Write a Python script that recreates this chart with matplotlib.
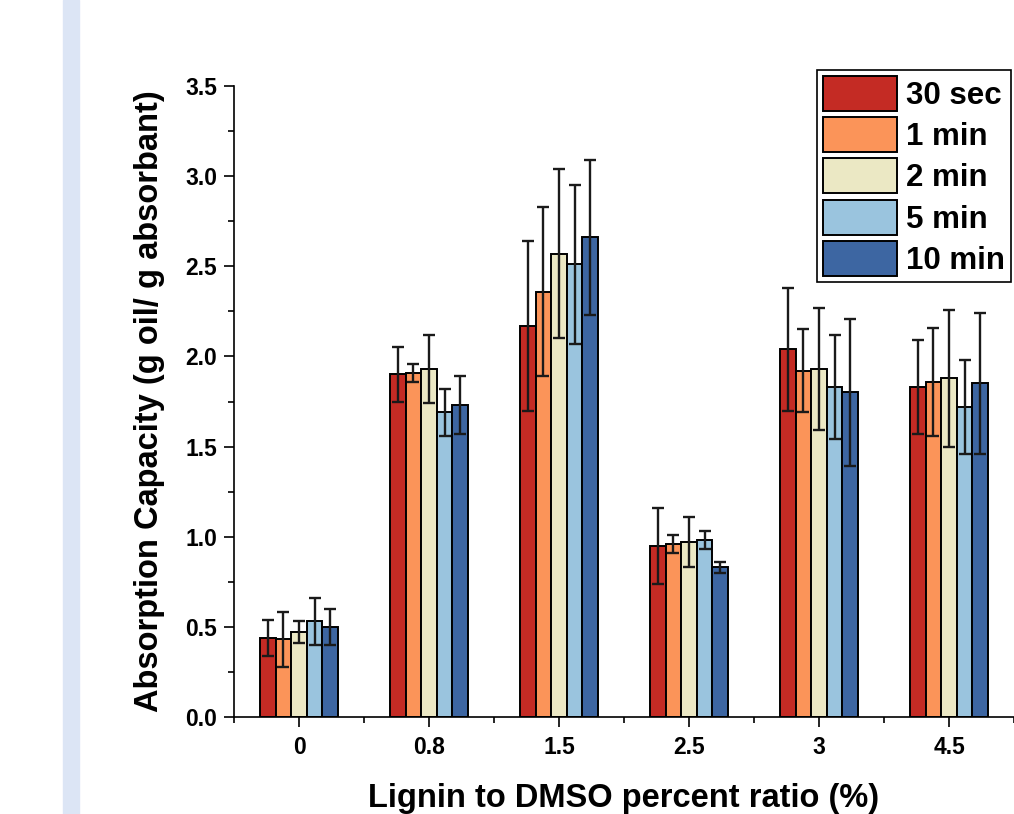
import matplotlib.pyplot as plt
import numpy as np

# categories and series
ratios = ['0', '0.8', '1.5', '2.5', '3', '4.5']
series = ['30 sec', '1 min', '2 min', '5 min', '10 min']
colors = ['#c42b24', '#fb9459', '#ebe8c4', '#9ac4de', '#3d66a2']

sec30 = [0.44, 1.90, 2.17, 0.95, 2.04, 1.83]
min1 = [0.43, 1.91, 2.36, 0.96, 1.92, 1.86]
min2 = [0.47, 1.93, 2.57, 0.97, 1.93, 1.88]
min5 = [0.53, 1.69, 2.51, 0.98, 1.83, 1.72]
min10 = [0.50, 1.73, 2.66, 0.83, 1.80, 1.85]

err30 = [0.10, 0.15, 0.47, 0.21, 0.34, 0.26]
err1 = [0.15, 0.05, 0.47, 0.05, 0.23, 0.30]
err2 = [0.06, 0.19, 0.47, 0.14, 0.34, 0.38]
err5 = [0.13, 0.13, 0.44, 0.05, 0.29, 0.26]
err10 = [0.10, 0.16, 0.43, 0.03, 0.41, 0.39]

values = [sec30, min1, min2, min5, min10]
errors = [err30, err1, err2, err5, err10]

bold_font = ['Liberation Sans', 'DejaVu Sans']

fig = plt.figure(figsize=(10.14, 8.14), dpi=100)
# light blue strip on the left edge
fig.patches.append(plt.Rectangle((63 / 1014, 0), 16 / 1014, 1, transform=fig.transFigure,
                                 color='#dce5f5', zorder=0))

ax = fig.add_axes([234 / 1014, 1 - 717 / 814, 1 - 234 / 1014, (717 - 86) / 814])

x = np.arange(len(ratios))
w = 0.12
for i in range(len(series)):
    pos = x + (i - 2) * w
    ax.bar(pos, values[i], w, color=colors[i], edgecolor='black', linewidth=1.4,
           label=series[i], zorder=2)
    ax.errorbar(pos, values[i], yerr=errors[i], fmt='none', ecolor='#1a1a1a',
                elinewidth=1.7, capsize=4.5, capthick=1.7, zorder=3)

ax.set_xlim(-0.5, 5.5)
ax.set_ylim(0, 3.5)
ax.set_xticks(x)
ax.set_xticklabels(ratios)
ax.set_xticks(np.arange(-0.5, 5.6, 1), minor=True)
ax.set_yticks(np.arange(0, 3.6, 0.5))
ax.set_yticklabels(['%.1f' % v for v in np.arange(0, 3.6, 0.5)])
ax.set_yticks(np.arange(0.25, 3.5, 0.5), minor=True)

for s in ['top', 'right']:
    ax.spines[s].set_visible(False)
for s in ['left', 'bottom']:
    ax.spines[s].set_linewidth(1.2)

ax.tick_params(which='major', direction='out', length=7, width=1.2)
ax.tick_params(which='minor', direction='out', length=4, width=1.2)
ax.tick_params(axis='x', which='major', pad=7)
ax.tick_params(axis='y', which='major', pad=5)
for lab in ax.get_xticklabels() + ax.get_yticklabels():
    lab.set_family(bold_font)
    lab.set_fontsize(16.5)
    lab.set_fontweight('bold')

ax.set_xlabel('Lignin to DMSO percent ratio (%)', fontsize=23.5, fontweight='bold',
              family=bold_font)
ax.set_ylabel('Absorption Capacity (g oil/ g absorbant)', fontsize=23.5, fontweight='bold',
              family=bold_font)
ax.xaxis.set_label_coords(0.5, -0.104)
ax.yaxis.set_label_coords(-0.088, 0.5)

leg = ax.legend(loc='upper right', bbox_to_anchor=(1011 / 1014, 1 - 70 / 814),
                bbox_transform=fig.transFigure, borderaxespad=0, fancybox=False,
                edgecolor='black', framealpha=1, handlelength=2.37, handleheight=1.35,
                labelspacing=0.2, handletextpad=0.3, borderpad=0.18,
                prop={'family': bold_font, 'weight': 'bold', 'size': 22.5})
leg.get_frame().set_linewidth(1.2)

fig.savefig('out.png', dpi=100)
